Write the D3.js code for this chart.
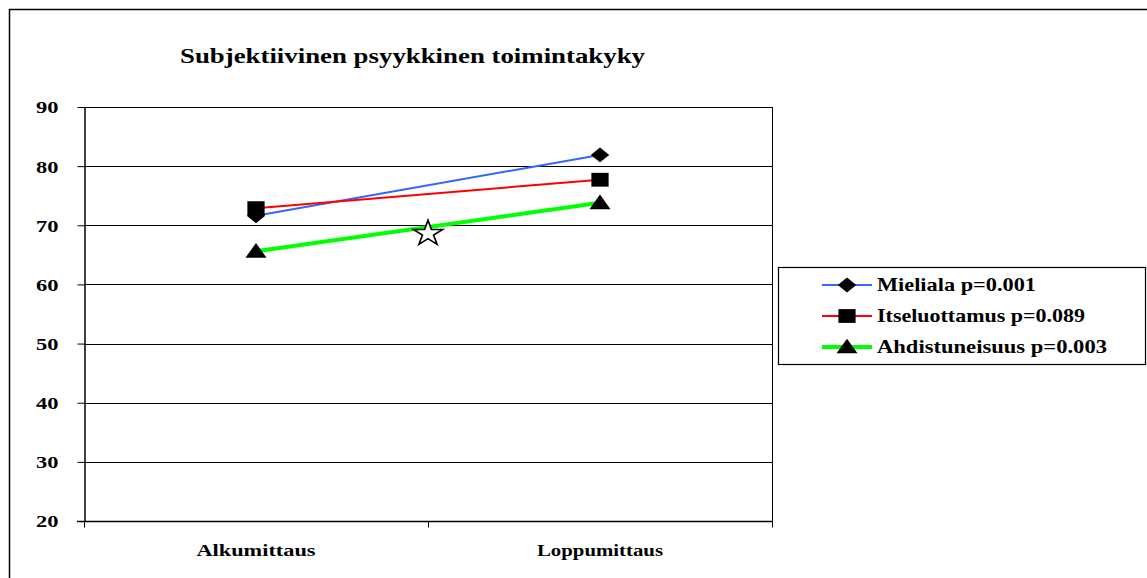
<!DOCTYPE html>
<html>
<head>
<meta charset="utf-8">
<script src="https://cdn.jsdelivr.net/npm/d3@7/dist/d3.min.js"></script>
<style>
  html, body { margin: 0; padding: 0; background: #fff; }
  svg { display: block; }
</style>
</head>
<body>
<svg id="chart" width="1147" height="578"></svg>
<script>
// Measurement points and series values
const categories = ["Alkumittaus", "Loppumittaus"];
const seriesNames = ["Mieliala p=0.001", "Itseluottamus p=0.089", "Ahdistuneisuus p=0.003"];
const mieliala = [71.6, 81.9];
const itseluottamus = [72.9, 77.7];
const ahdistuneisuus = [65.6, 73.8];
const seriesColors = ["#3366ff", "#ff0000", "#00ff00"];
const seriesWidths = [2, 2, 4];
const seriesMarkers = ["diamond", "square", "triangle"];
const yTicks = [20, 30, 40, 50, 60, 70, 80, 90];
// Star marker placed between the two measurements
const starPoint = { value: 68.6 };
const titleText = "Subjektiivinen psyykkinen toimintakyky";

const FONT = "'Liberation Serif', 'Times New Roman', Times, serif";
// The chart is drawn with a wide aspect: glyphs and markers are stretched horizontally
const SX = 1.25;

const svg = d3.select("#chart");

// Fit a text element to a given width by stretching its glyphs
function stretchTo(sel, width) {
  sel.attr("textLength", width).attr("lengthAdjust", "spacingAndGlyphs");
}

// Outer chart frame (extends past the right and bottom edges)
svg.append("rect")
  .attr("x", 9.5).attr("y", 9.5)
  .attr("width", 1200).attr("height", 700)
  .attr("fill", "none").attr("stroke", "#000").attr("stroke-width", 1.5);

const plot = { left: 84, right: 772, top: 107, bottom: 521 };

const x = d3.scaleBand().domain(categories).range([plot.left, plot.right]).padding(0);
const y = d3.scaleLinear().domain([20, 90]).range([plot.bottom, plot.top]);

// Title
svg.append("text")
  .attr("x", 180).attr("y", 62.5)
  .attr("font-family", FONT)
  .attr("font-weight", "bold")
  .attr("font-size", 21)
  .text(titleText)
  .call(stretchTo, 465);

// Gridlines
svg.append("g")
  .selectAll("line")
  .data(yTicks.filter(d => d > 20))
  .join("line")
  .attr("x1", plot.left).attr("x2", plot.right)
  .attr("y1", d => Math.round(y(d)) + 0.5).attr("y2", d => Math.round(y(d)) + 0.5)
  .attr("stroke", "#000").attr("stroke-width", 1);

// Right border of plot area
svg.append("line")
  .attr("x1", plot.right + 0.5).attr("x2", plot.right + 0.5)
  .attr("y1", plot.top).attr("y2", plot.bottom)
  .attr("stroke", "#000").attr("stroke-width", 1);

// Y axis
const yAxis = d3.axisLeft(y).tickValues(yTicks).tickSize(7).tickPadding(19).tickSizeOuter(0);
const gy = svg.append("g")
  .attr("transform", `translate(${plot.left + 0.5},0)`)
  .call(yAxis)
  .attr("font-family", FONT)
  .attr("font-weight", "bold")
  .attr("font-size", 16.5);
gy.select(".domain").attr("stroke", "#000").attr("stroke-width", 1.5);
gy.selectAll(".tick line").attr("stroke", "#000");
gy.selectAll(".tick text")
  .attr("fill", "#000")
  .attr("dy", "0.36em")
  .call(stretchTo, 22.5);

// X axis: ticks on category boundaries
const gx = svg.append("g")
  .attr("transform", `translate(0,${plot.bottom + 0.5})`)
  .attr("font-family", FONT)
  .attr("font-weight", "bold")
  .attr("font-size", 17);
gx.append("line")
  .attr("x1", plot.left - 7).attr("x2", plot.right + 1)
  .attr("stroke", "#000").attr("stroke-width", 1.5);
const boundaries = [plot.left, ...categories.map(c => x(c) + x.bandwidth())];
gx.selectAll("line.tk")
  .data(boundaries)
  .join("line")
  .attr("class", "tk")
  .attr("x1", d => d + 0.5).attr("x2", d => d + 0.5)
  .attr("y1", 0).attr("y2", 6)
  .attr("stroke", "#000");
const catWidths = [119, 126];
gx.selectAll("text")
  .data(categories)
  .join("text")
  .attr("x", d => x(d) + x.bandwidth() / 2)
  .attr("y", 34)
  .attr("text-anchor", "middle")
  .text(d => d)
  .each(function (d, i) { d3.select(this).call(stretchTo, catWidths[i]); });

// Series
const series = [mieliala, itseluottamus, ahdistuneisuus].map((vals, i) => ({
  name: seriesNames[i], values: vals, color: seriesColors[i], width: seriesWidths[i], marker: seriesMarkers[i]
}));

const line = d3.line()
  .x((d, i) => x(categories[i]) + x.bandwidth() / 2)
  .y(d => y(d));

const symbolFor = {
  diamond: d3.symbol().type(d3.symbolDiamond2).size(140),
  square: d3.symbol().type(d3.symbolSquare).size(190),
  triangle: d3.symbol().type(d3.symbolTriangle).size(122)
};
const markerOffset = { diamond: 0, square: 0, triangle: 1.5 };

series.forEach(s => {
  svg.append("path")
    .datum(s.values)
    .attr("d", line)
    .attr("fill", "none")
    .attr("stroke", s.color)
    .attr("stroke-width", s.width);
});
series.forEach(s => {
  svg.append("g")
    .selectAll("path")
    .data(s.values)
    .join("path")
    .attr("transform", (d, i) => `translate(${x(categories[i]) + x.bandwidth() / 2},${y(d) + markerOffset[s.marker]}) scale(${SX},1)`)
    .attr("d", symbolFor[s.marker]())
    .attr("fill", "#000");
});

// Star marker
svg.append("path")
  .attr("transform", `translate(${plot.left + x.bandwidth()},${y(starPoint.value)}) scale(${SX * 0.92},1)`)
  .attr("d", d3.symbol().type(d3.symbolStar).size(200)())
  .attr("fill", "#fff")
  .attr("stroke", "#000")
  .attr("stroke-width", 1.5);

// Legend
const legend = { x: 778, y: 267, w: 367, h: 97 };
svg.append("rect")
  .attr("x", legend.x + 0.5).attr("y", legend.y + 0.5)
  .attr("width", legend.w).attr("height", legend.h)
  .attr("fill", "#fff").attr("stroke", "#000").attr("stroke-width", 1.2);

const rowY = [285, 316, 347];
const legendWidths = [159, 208, 230];
series.forEach((s, i) => {
  const g = svg.append("g").attr("transform", `translate(0,${rowY[i]})`);
  g.append("line")
    .attr("x1", 822).attr("x2", 872)
    .attr("stroke", s.color).attr("stroke-width", s.width);
  g.append("path")
    .attr("transform", `translate(847,${markerOffset[s.marker]}) scale(${SX},1)`)
    .attr("d", symbolFor[s.marker]())
    .attr("fill", "#000");
  g.append("text")
    .attr("x", 877).attr("y", 5.5)
    .attr("font-family", FONT)
    .attr("font-weight", "bold")
    .attr("font-size", 19)
    .text(s.name)
    .call(stretchTo, legendWidths[i]);
});
</script>
</body>
</html>
